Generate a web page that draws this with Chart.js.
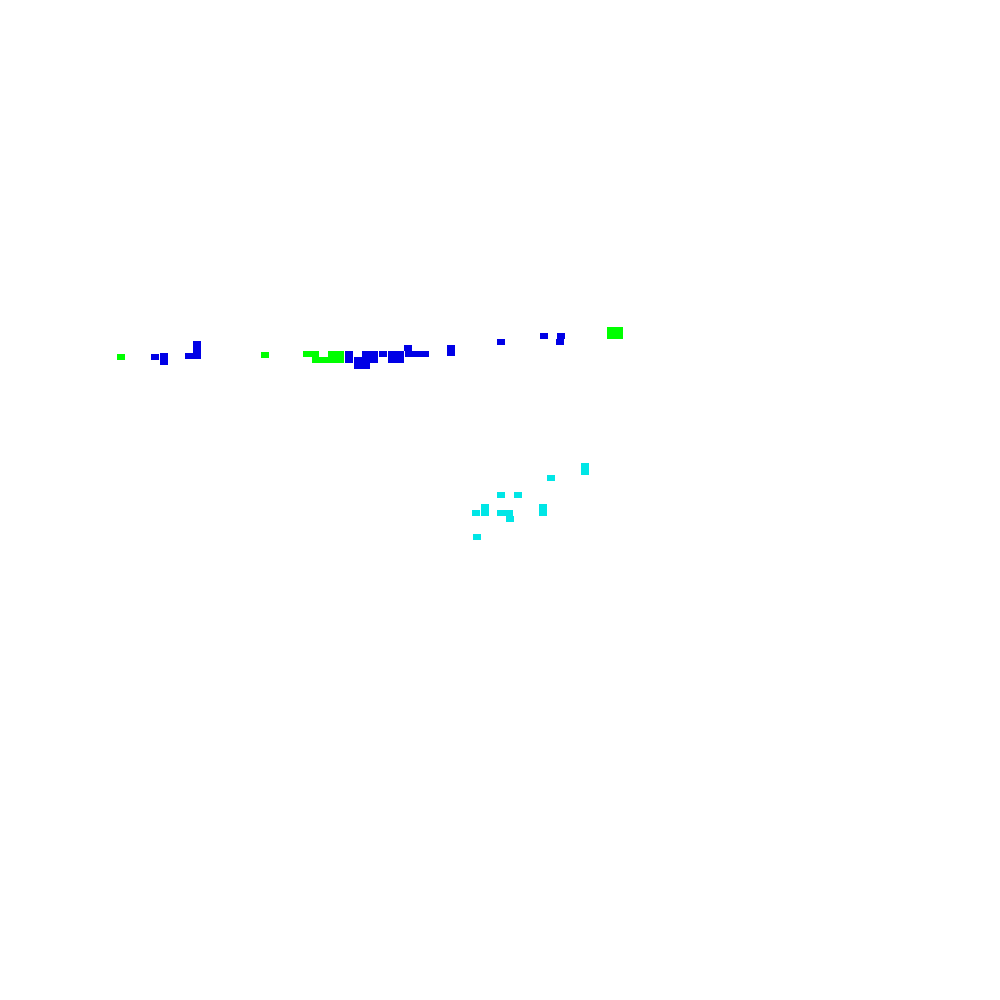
<!DOCTYPE html>
<html>
<head>
<meta charset="utf-8">
<script src="https://cdn.jsdelivr.net/npm/chart.js@4/dist/chart.umd.min.js"></script>
<style>
html,body{margin:0;padding:0;background:#fff;}
#wrap{width:1000px;height:1000px;}
</style>
</head>
<body>
<div id="wrap"><canvas id="c" width="1000" height="1000"></canvas></div>
<script>
// cell centres (x, y)
const greenX = [121, 265, 307, 315, 316, 324, 332, 340, 332, 340, 611, 619, 611, 619];
const greenY = [357, 355, 354, 354, 360, 360, 354, 354, 360, 360, 330, 330, 336, 336];

const blueX = [155, 164, 164, 189, 197, 197, 197,
               349, 349, 358, 358, 366, 366, 374, 366, 374, 383, 392, 400, 392, 400, 408, 409, 417, 425,
               451, 451, 501, 544, 561, 560];
const blueY = [357, 356, 362, 356, 356, 350, 344,
               354, 360, 360, 366, 366, 354, 354, 360, 360, 354, 354, 354, 360, 360, 348, 354, 354, 354,
               348, 353, 342, 336, 336, 342];

const cyanX = [585, 585, 551, 501, 518, 485, 476, 485, 501, 509, 510, 543, 543, 477];
const cyanY = [466, 472, 478, 495, 495, 507, 513, 513, 513, 513, 519, 507, 513, 537];

const colors = { green: '#00ff00', blue: '#0000e6', cyan: '#00e6e6' };

function cell(color) {
  const cv = document.createElement('canvas');
  cv.width = 8; cv.height = 6;
  const g = cv.getContext('2d');
  g.fillStyle = color;
  g.fillRect(0, 0, 8, 6);
  return cv;
}
function pts(xs, ys) { return xs.map((x, i) => ({ x: x, y: ys[i] })); }

new Chart(document.getElementById('c'), {
  type: 'scatter',
  data: {
    datasets: [
      { label: 'green', data: pts(greenX, greenY), pointStyle: cell(colors.green), backgroundColor: colors.green },
      { label: 'blue', data: pts(blueX, blueY), pointStyle: cell(colors.blue), backgroundColor: colors.blue },
      { label: 'cyan', data: pts(cyanX, cyanY), pointStyle: cell(colors.cyan), backgroundColor: colors.cyan }
    ]
  },
  options: {
    responsive: false,
    animation: false,
    devicePixelRatio: 1,
    layout: { padding: 0, autoPadding: false },
    plugins: { legend: { display: false }, tooltip: { enabled: false } },
    scales: {
      x: { type: 'linear', min: 0, max: 1000, display: false },
      y: { type: 'linear', min: 0, max: 1000, reverse: true, display: false }
    }
  }
});
</script>
</body>
</html>
